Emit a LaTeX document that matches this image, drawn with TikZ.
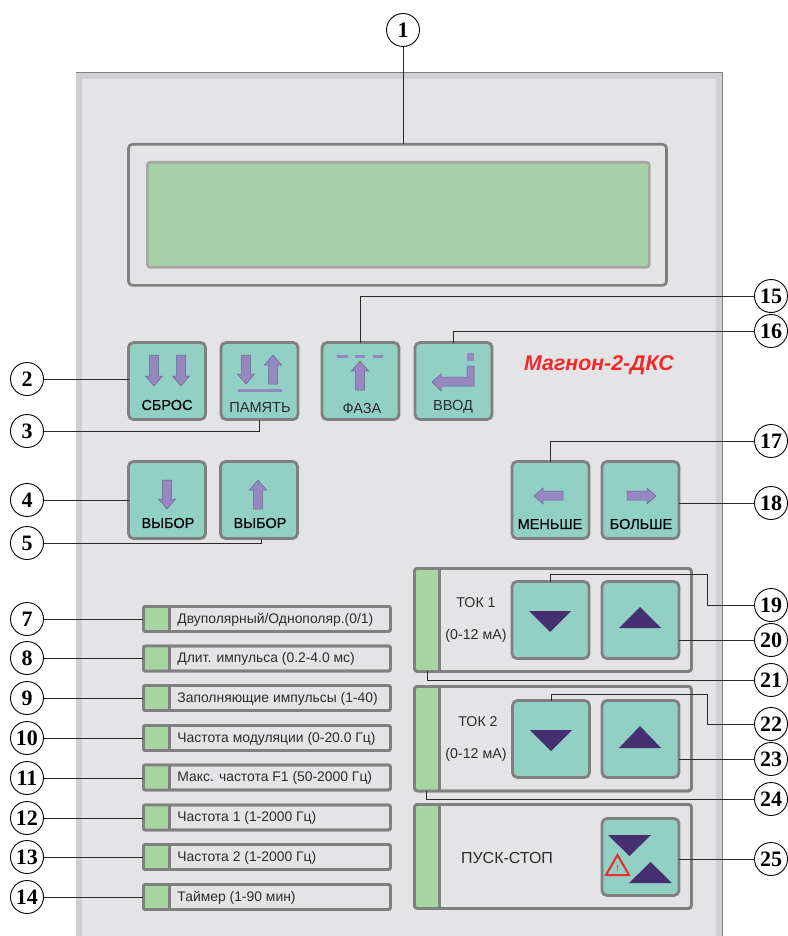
\documentclass[tikz,border=0pt]{standalone}
\usepackage{fontspec}
\setmainfont{Liberation Sans}
\newfontfamily\numfont{Liberation Serif}
\newfontfamily\semib[FakeBold=0.25]{Liberation Sans}
\definecolor{panelc}{HTML}{E4E4E6}
\definecolor{bezelc}{HTML}{D0D0D2}
\definecolor{btnc}{HTML}{92D0C5}
\definecolor{framec}{HTML}{808080}
\definecolor{ledc}{HTML}{A6D5A2}
\definecolor{lcdc}{HTML}{A9D1A9}
\definecolor{arrc}{HTML}{9688BF}
\definecolor{arrl}{HTML}{6A5F99}
\definecolor{tric}{HTML}{452F6E}
\definecolor{redc}{HTML}{EE2A2A}
\definecolor{linec}{HTML}{2A2A2A}
\definecolor{txtc}{HTML}{2C2C2C}
\tikzset{
  every node/.style={outer sep=0pt},
  num/.style={circle,draw=black,line width=0.9pt,fill=white,minimum size=33pt,inner sep=0pt,font=\numfont\bfseries\fontsize{22}{22}\selectfont,text=black},
  btn/.style={rectangle,rounded corners=5pt,draw=framec,line width=2.8pt,fill=btnc,minimum width=77pt,minimum height=77pt,inner sep=0pt,anchor=north west},
  strip/.style={rectangle,rounded corners=2pt,draw=framec,line width=2.8pt,fill=panelc,minimum width=247pt,minimum height=25pt,inner sep=0pt,anchor=north west},
  bigpanel/.style={rectangle,rounded corners=3pt,draw=framec,line width=2.8pt,fill=panelc,minimum width=277pt,inner sep=0pt,anchor=north west},
  lnk/.style={draw=linec,line width=1pt},
  icon/.style={fill=arrc,draw=arrl,line width=0.5pt},
  tri/.style={fill=tric,draw=none},
  btxt/.style={font=\fontsize{14.6}{15}\selectfont,text=txtc,inner sep=0pt},
  bbtxt/.style={font=\semib\fontsize{14.5}{15}\selectfont,text=black,inner sep=0pt},
  stxt/.style={font=\fontsize{13.9}{14}\selectfont,text=txtc,inner sep=0pt,anchor=west},
  ptxt/.style={font=\fontsize{14.2}{15}\selectfont,text=txtc,inner sep=0pt}
}
\newcommand{\arrdn}[3]{\draw[icon,shift={(#1,#2)}] (-4.5,0) -- (4.5,0) -- (4.5,#3-10) -- (8.5,#3-10) -- (0,#3) -- (-8.5,#3-10) -- (-4.5,#3-10) -- cycle;}
\newcommand{\arrup}[3]{\draw[icon,shift={(#1,#2)}] (-4.5,0) -- (4.5,0) -- (4.5,-#3+10) -- (8.5,-#3+10) -- (0,-#3) -- (-8.5,-#3+10) -- (-4.5,-#3+10) -- cycle;}
\begin{document}
\begin{tikzpicture}[x=1pt,y=-1pt]
\useasboundingbox (0,0) rectangle (787,936);
\fill[white] (0,0) rectangle (787,936);
% panel
\fill[bezelc] (76,72) rectangle (722,936);
\fill[panelc] (82,79) rectangle (716,936);
\draw[draw=framec,line width=0.8pt] (76,72) -- (722,72) -- (722,936);
% display
\node[rectangle,rounded corners=4pt,draw=framec,line width=2.6pt,fill=panelc,minimum width=538pt,minimum height=141pt,inner sep=0pt,anchor=north west] (disp) at (128.5,144.3) {};
\node[rectangle,rounded corners=3pt,draw=black!35,line width=2.6pt,fill=lcdc,minimum width=502pt,minimum height=105pt,inner sep=0pt,anchor=north west] (lcd) at (147.3,162.3) {};
% top buttons
\node[btn] (bsb) at (128.5,342.5) {};
\node[btn] (bpm) at (221,342.5) {};
\node[btn] (bfz) at (322,342.5) {};
\node[btn] (bvv) at (415,342.5) {};
\node[btn] (bv1) at (128.5,461.5) {};
\node[btn] (bv2) at (220.5,461.5) {};
\node[btn] (bmn) at (512,461.5) {};
\node[btn] (bbl) at (602,461.5) {};
\node[bbtxt] at (167,405) {СБРОС};
\node[btxt] at (260,407) {ПАМЯТЬ};
\node[btxt] at (362,408) {ФАЗА};
\node[btxt] at (453,407) {ВВОД};
\node[bbtxt] at (168,523) {ВЫБОР};
\node[bbtxt] at (260,523) {ВЫБОР};
\node[bbtxt] at (550,524) {МЕНЬШЕ};
\node[bbtxt] at (641,524) {БОЛЬШЕ};
\node[font=\bfseries\itshape\fontsize{21.3}{22}\selectfont,text=redc,inner sep=0pt] (brand) at (599,365) {Магнон-2-ДКС};
% icons
\arrdn{154}{355}{31}
\arrdn{181}{355}{31}
\arrdn{246}{355}{29}
\arrup{273}{384}{29}
\fill[arrc] (238,388.5) rectangle (282,391.5);
\fill[arrc] (337,354.5) rectangle (348,357.5);
\fill[arrc] (355,354.5) rectangle (365,357.5);
\fill[arrc] (373,354.5) rectangle (383,357.5);
\arrup{360}{390}{29}
\arrdn{167}{480}{29}
\arrup{258}{509}{29}
\fill[arrc] (467,353) rectangle (474,361);
\draw[icon] (474,366) -- (474,386) -- (441,386) -- (441,391) -- (432,382) -- (441,374) -- (441,377) -- (467,377) -- (467,366) -- cycle;
\draw[icon] (563,491) -- (563,500) -- (543,500) -- (543,504) -- (534,496) -- (543,488) -- (543,491) -- cycle;
\draw[icon] (627,491) -- (627,500) -- (647,500) -- (647,504) -- (656,496) -- (647,488) -- (647,491) -- cycle;
% strips
\foreach \nm/\yy/\tx in {s7/606.4/{Двуполярный/Однополяр.(0/1)},s8/646/{Длит. импульса (0.2-4.0 мс)},s9/685.5/{Заполняющие импульсы (1-40)},s10/725.5/{Частота модуляции (0-20.0 Гц)},s11/765/{Макс. частота F1 (50-2000 Гц)},s12/805/{Частота 1 (1-2000 Гц)},s13/844.5/{Частота 2 (1-2000 Гц)},s14/884.5/{Таймер (1-90 мин)}}{
  \node[strip] (\nm) at (143.4,\yy) {};
  \fill[ledc] (\nm.north west) rectangle ([xshift=26pt]\nm.south west);
  \draw[draw=framec,line width=2.8pt] ([xshift=26pt]\nm.north west) -- ([xshift=26pt]\nm.south west);
  \draw[draw=framec,line width=2.8pt,rounded corners=2pt] (\nm.north west) rectangle (\nm.south east);
  \node[stxt] at ([xshift=34pt,yshift=-0.5pt]\nm.west) {\tx};
}
% current panels
\node[bigpanel,minimum height=103pt] (p1) at (414.4,568.4) {};
\node[bigpanel,minimum height=104.5pt] (p2) at (414.4,686.4) {};
\node[bigpanel,minimum height=104pt] (p3) at (414.4,804.4) {};
\foreach \pp in {p1,p2,p3}{
  \fill[ledc] (\pp.north west) rectangle ([xshift=25pt]\pp.south west);
  \draw[draw=framec,line width=2.8pt] ([xshift=25pt]\pp.north west) -- ([xshift=25pt]\pp.south west);
  \draw[draw=framec,line width=2.8pt,rounded corners=3pt] (\pp.north west) rectangle (\pp.south east);
}
\node[btn] (t1d) at (512,581.5) {};
\node[btn] (t1u) at (602,581.5) {};
\node[btn] (t2d) at (512.5,700.5) {};
\node[btn] (t2u) at (602,700.5) {};
\node[btn] (ps) at (602,818.5) {};
\node[ptxt] at (476,603) {ТОК 1};
\node[ptxt] at (476,636) {(0-12 мА)};
\node[ptxt] at (478,722) {ТОК 2};
\node[ptxt] at (476,755) {(0-12 мА)};
\node[ptxt,font=\fontsize{16}{16}\selectfont] at (507,858) {ПУСК-СТОП};
\fill[tri] (529,611) -- (571,611) -- (550,632) -- cycle;
\fill[tri] (619,628) -- (661,628) -- (640,607) -- cycle;
\fill[tri] (530,730) -- (572,730) -- (551,751) -- cycle;
\fill[tri] (619,748) -- (661,748) -- (640,726) -- cycle;
\fill[tri] (608,835) -- (651,835) -- (629.5,856) -- cycle;
\fill[tri] (629,883) -- (672,883) -- (650.5,862) -- cycle;
\draw[redc,line width=2pt,line join=miter] (606,875) -- (629,875) -- (617.5,855) -- cycle;
\node[font=\fontsize{9}{9}\selectfont,text=redc,inner sep=0pt] (warn) at (617.5,868) {!};
% callouts
\node[num] (c1) at (403,30) {1};
\foreach \nm/\yy/\tx in {c2/379/2,c3/431/3,c4/500/4,c5/543/5,c7/619/7,c8/658/8,c9/698/9,c10/738/10,c11/778/11,c12/818/12,c13/857/13,c14/897/14}{
  \node[num] (\nm) at (27,\yy) {\tx};
}
\foreach \nm/\yy/\tx in {c15/296/15,c16/331/16,c17/441/17,c18/503/18,c19/605/19,c20/640/20,c21/680/21,c22/724/22,c23/759/23,c24/799/24,c25/859/25}{
  \node[num] (\nm) at (771,\yy) {\tx};
}
% connectors
\draw[lnk] (c1) -- (disp.north -| c1);
\draw[lnk] (c2) -- (bsb.west |- c2);
\draw[lnk] (c3) -| (bpm.south);
\draw[lnk] (c4) -- (bv1.west |- c4);
\draw[lnk] (c5) -| ([xshift=2pt]bv2.south);
\foreach \ss in {7,...,14}{
  \draw[lnk] (c\ss) -- (s\ss.west |- c\ss);
}
\draw[lnk] (c15) -| (bfz.north);
\draw[lnk] (c16) -| (bvv.north);
\draw[lnk] (c17) -| (bmn.north);
\draw[lnk] (c18) -- (bbl.east |- c18);
\coordinate (j19) at (707,574);
\coordinate (j22) at (707,694);
\draw[lnk] (c19) -| (j19) -| (t1d.north);
\draw[lnk] (c20) -- (t1u.east |- c20);
\draw[lnk] (c21) -| ([xshift=13pt]p1.south west);
\draw[lnk] (c22) -| (j22) -| (t2d.north);
\draw[lnk] (c23) -- (t2u.east |- c23);
\draw[lnk] (c24) -| ([xshift=12.5pt]p2.south west);
\draw[lnk] (c25) -- (ps.east |- c25);
\end{tikzpicture}
\end{document}
